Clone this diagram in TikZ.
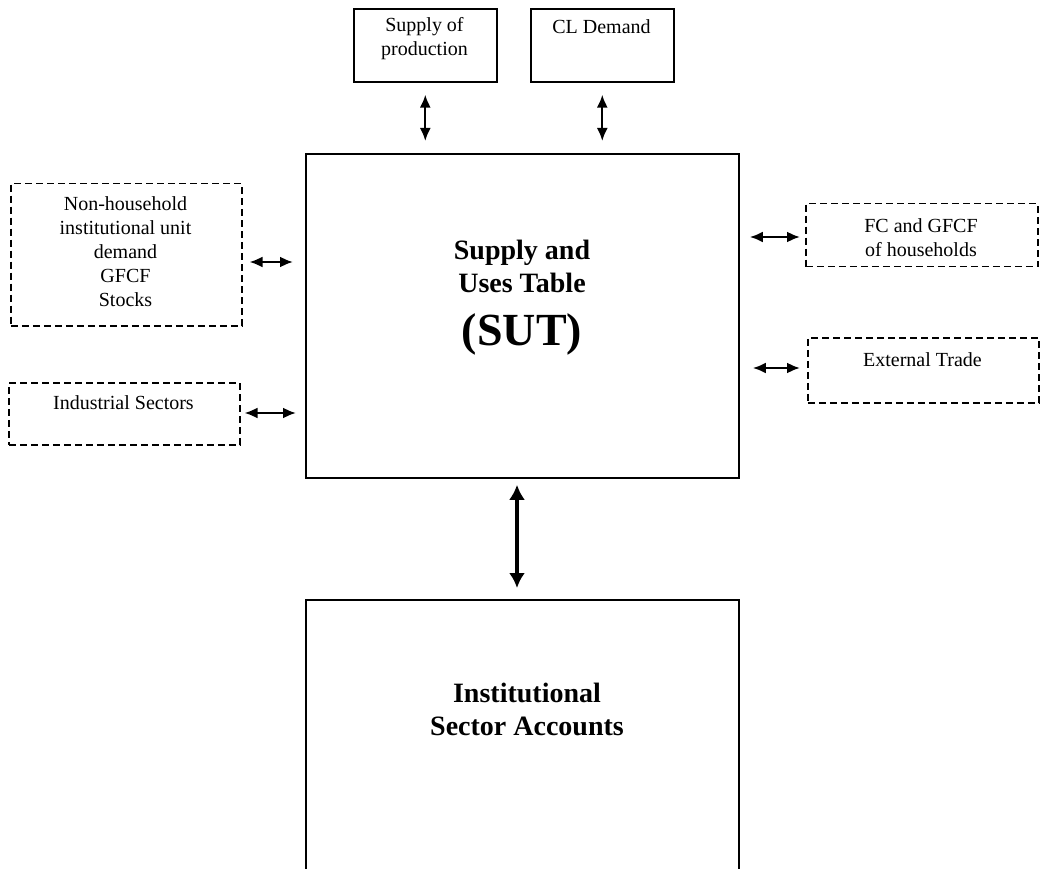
\documentclass[tikz,border=0pt]{standalone}
\usepackage{fontspec}
\setmainfont{Liberation Serif}
\usetikzlibrary{arrows.meta}
\begin{document}
\begin{tikzpicture}[x=1pt,y=-1pt,
  solidbox/.style={draw, line width=1.6pt, rectangle, inner sep=0pt, anchor=north west},
  dashbox/.style={draw, line width=1.5pt, dash pattern=on 7pt off 4pt, rectangle, inner sep=0pt, anchor=north west},
  txt/.style={align=center, font=\fontsize{20}{24}\selectfont, inner sep=0pt},
  bigtxt/.style={align=center, font=\fontsize{28}{33}\selectfont\bfseries, inner sep=0pt},
  arr/.style={line width=2.2pt, {Latex[length=13pt,width=11pt]}-{Latex[length=13pt,width=11pt]}},
  bigarr/.style={line width=4.5pt, {Latex[length=15pt,width=16pt]}-{Latex[length=15pt,width=16pt]}}]

\useasboundingbox (0,0) rectangle (1042,869);
\clip (0,0) rectangle (1042,869);

% top boxes
\node[solidbox, minimum width=143pt, minimum height=73pt] (sp) at (353,8) {};
\node[txt] (sptxt) at (424.5,38.5) {Supply of\\production};
\node[solidbox, minimum width=143pt, minimum height=73pt] (cl) at (530,8) {};
\node[txt] (cltxt) at (601.5,27) {CL Demand};

% central table
\node[solidbox, line width=1.8pt, minimum width=433pt, minimum height=324pt] (sut) at (305,153) {};
\node[bigtxt] (suttxt) at (522,266.5) {Supply and\\Uses Table};
\node[bigtxt, font=\fontsize{46}{46}\selectfont\bfseries] (sutabbr) at (522,334) {(SUT)};

% institutional sector accounts (runs past the lower edge)
\node[solidbox, line width=1.8pt, minimum width=433pt, minimum height=330pt] (isa) at (305,599) {};
\node[bigtxt] (isatxt) at (527,709) {Institutional\\Sector Accounts};

% left dashed boxes
\node[dashbox, minimum width=231pt, minimum height=142pt] (nh) at (10,183) {};
\node[txt] (nhtxt) at (125.5,251.5) {Non-household\\institutional unit\\demand\\GFCF\\Stocks};
\node[dashbox, minimum width=231pt, minimum height=62pt] (ind) at (8,382) {};
\node[txt] (indtxt) at (123.5,403) {Industrial Sectors};

% right dashed boxes
\node[dashbox, minimum width=232pt, minimum height=63pt] (fc) at (805,203) {};
\node[txt] (fctxt) at (921,237.5) {FC and GFCF\\of households};
\node[dashbox, minimum width=231pt, minimum height=65pt] (ext) at (807,337) {};
\node[txt] (exttxt) at (922.5,360) {External Trade};

% connectors
\draw[arr, shorten <=12pt, shorten >=12pt] (sp.south) -- (sp.south |- sut.north);
\draw[arr, shorten <=12pt, shorten >=12pt] (cl.south) -- (cl.south |- sut.north);
\draw[arr, shorten <=7pt, shorten >=12pt] (nh.east |- 0,262) -- (sut.west |- 0,262);
\draw[arr, shorten <=4pt, shorten >=9pt] (ind.east |- 0,413) -- (sut.west |- 0,413);
\draw[arr, shorten <=10pt, shorten >=5pt] (sut.east |- 0,237) -- (fc.west |- 0,237);
\draw[arr, shorten <=13pt, shorten >=7pt] (sut.east |- 0,368) -- (ext.west |- 0,368);
\draw[bigarr, shorten <=6pt, shorten >=11pt] (sut.south -| 517,0) -- (isa.north -| 517,0);
\end{tikzpicture}
\end{document}
